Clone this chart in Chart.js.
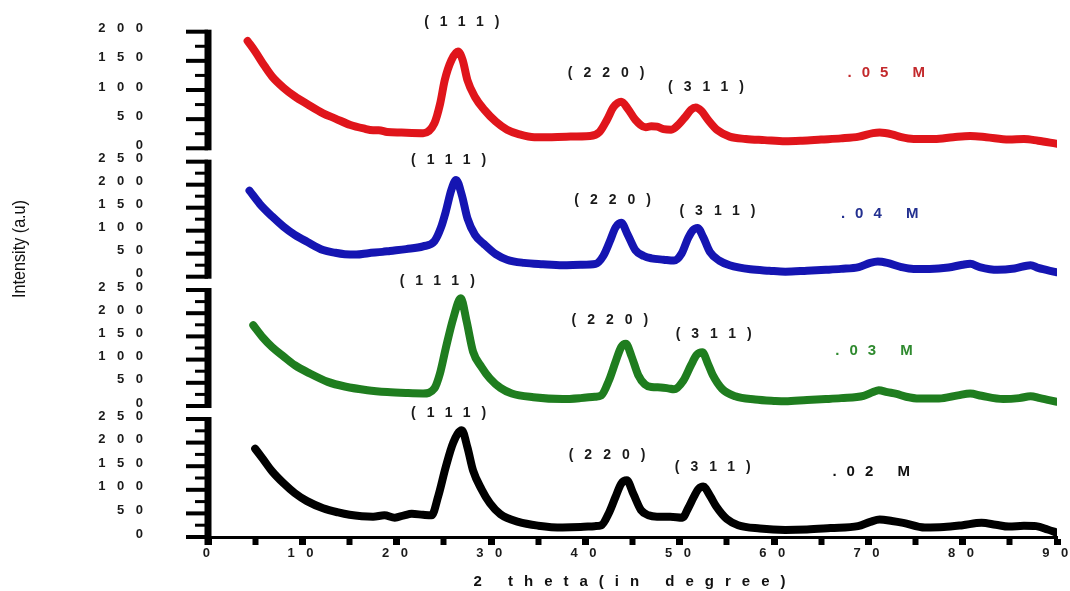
<!DOCTYPE html>
<html>
<head>
<meta charset="utf-8">
<script src="https://cdn.jsdelivr.net/npm/chart.js@4.4.1/dist/chart.umd.min.js"></script>
<style>
  html, body { margin: 0; padding: 0; background: #ffffff; }
  #c { display: block; }
</style>
</head>
<body>
<canvas id="c" width="1070" height="591"></canvas>
<script>
// ---------------- DATA ----------------
const seriesLabels = ['.05 M', '.04 M', '.03 M', '.02 M'];

// .05 M (red)
const x05 = [4.2,5.0,6.0,6.8,8.0,9.2,10.5,12.2,13.5,15.1,16.5,17.5,18.1,19.0,20.5,22.8,24.0,24.6,25.1,25.8,26.5,27.0,27.5,28.3,29.3,30.5,31.7,33.0,34.6,36.0,38.0,40.5,41.5,42.3,43.0,43.8,44.5,45.3,46.4,47.0,47.6,48.3,49.1,49.9,50.6,51.2,51.7,52.3,53.0,54.0,55.3,57.0,59.0,61.2,63.0,65.0,67.1,69.0,70.5,71.2,72.5,73.5,74.8,77.0,79.0,80.8,82.5,84.9,86.5,88.0,89.9];
const y05 = [184,166,141,123,104,89,76,60,51,40,34,31,31,28,27,26,43,76,117,151,166,151,117,88,66,46,32,24,19,19,20,21,28,49,71,80,68,49,36,38,37,33,32,41,54,66,70,64,49,31,20,16,14,12,13,15,17,20,26,27,24,19,16,16,19,21,19,15,16,13,8];

// .04 M (blue)
const x04 = [4.4,5.5,6.8,8.0,9.2,10.5,12.2,13.5,14.5,15.7,17.0,18.5,19.3,21.0,22.8,24.0,24.7,25.2,25.8,26.3,26.9,27.5,28.3,29.3,30.5,31.7,33.5,35.5,37.6,39.5,41.1,41.9,42.6,43.2,43.8,44.5,45.3,46.2,47.0,48.3,49.4,50.2,50.9,51.4,51.9,52.5,53.2,54.2,55.3,57.5,59.5,61.2,63.5,65.5,67.1,69.0,70.2,71.0,72.0,73.5,74.8,76.5,78.5,80.0,80.8,81.8,83.7,85.5,87.2,88.0,89.9];
const y04 = [187,158,131,109,91,76,58,52,49,48,51,54,56,60,66,77,107,141,189,210,178,127,91,70,49,37,30,27,25,26,28,45,77,107,117,91,58,45,40,37,35,50,84,101,106,86,54,35,25,16,13,11,13,15,17,21,30,33,30,21,17,17,20,26,28,21,15,18,25,19,10];

// .03 M (green)
const x03 = [4.8,5.8,6.8,8.0,9.2,10.8,12.7,14.5,16.9,19.0,21.0,22.8,24.0,24.6,25.2,26.0,26.8,27.4,28.1,29.0,29.9,31.0,32.2,34.5,37.6,39.5,41.0,41.7,42.5,43.2,43.8,44.3,44.9,45.6,46.3,47.0,48.0,48.8,49.4,50.4,51.2,51.8,52.4,53.0,53.5,54.5,55.9,58.0,60.0,61.2,63.5,65.5,67.1,69.5,70.5,71.1,72.0,73.0,74.0,75.4,77.5,79.5,80.8,82.0,84.3,86.0,87.2,88.2,90.0];
const y03 = [174,148,127,107,88,70,52,42,34,30,28,27,38,71,124,189,232,184,117,84,59,39,27,19,15,17,20,23,55,95,127,134,107,67,47,41,40,38,36,55,88,110,116,91,67,37,21,14,11,10,13,15,17,22,30,34,30,26,20,16,16,23,27,22,15,17,21,17,9];

// .02 M (black)
const x02 = [5.0,5.8,6.8,8.0,9.2,10.5,12.2,13.8,15.0,16.3,17.5,18.7,19.8,20.8,21.6,22.8,23.7,24.4,25.2,26.0,26.9,27.5,28.1,29.0,29.9,31.0,32.9,35.0,37.6,39.5,41.0,41.7,42.5,43.2,43.8,44.4,45.1,45.9,46.7,47.6,49.0,50.3,50.9,51.5,52.0,52.5,53.2,53.9,55.0,56.2,58.5,61.2,63.5,66.0,68.9,70.2,71.2,72.5,73.7,76.0,78.0,80.0,82.0,83.5,84.9,86.5,87.8,89.0,90.0];
const y02 = [187,166,139,114,93,76,61,52,47,44,43,46,41,46,49,47,46,86,148,200,226,190,141,101,71,48,32,24,20,21,23,25,51,85,113,120,91,57,46,43,43,41,61,85,102,107,88,64,38,25,18,15,16,19,23,32,37,34,30,20,21,25,30,26,22,24,23,16,9];

// Tick values / labels
const xTickValues = [0,5,10,15,20,25,30,35,40,45,50,55,60,65,70,75,80,85,90];
const yTicks200 = [0,25,50,75,100,125,150,175,200];
const yTicks250 = [0,25,50,75,100,125,150,175,200,225,250];

// Peak (hkl) annotations: labels + where they sit (2theta, intensity of the panel)
const peakNames = ['(111)', '(220)', '(311)'];
const peakX05 = [26.9, 42.2, 52.8], peakY05 = [217, 129, 105];
const peakX04 = [25.5, 42.9, 54.0], peakY04 = [254, 167, 143];
const peakX03 = [24.3, 42.6, 53.6], peakY03 = [269, 185, 155];
const peakX02 = [25.5, 42.3, 53.5], peakY02 = [263, 174, 148];
// concentration label anchors
const concX = [71.9, 71.2, 70.6, 70.3];
const concY = [129, 136, 119, 138];

const xTitle = '2 theta(in degree)';
const yTitle = 'Intensity (a.u)';

// ---------------- STYLE / LAYOUT ----------------
const FONT = '"Liberation Sans", Arial, Helvetica, sans-serif';
const TICK_SPACING = 11.5;

const panels = [
  { id: 'y05', xs: x05, ys: y05, px: peakX05, py: peakY05, ticks: yTicks200, color: '#e0151b', labelColor: '#c3292c', min: -9.8,  max: 213.2, weight: 130 },
  { id: 'y04', xs: x04, ys: y04, px: peakX04, py: peakY04, ticks: yTicks250, color: '#1515b2', labelColor: '#233090', min: -13.7, max: 266.7, weight: 129 },
  { id: 'y03', xs: x03, ys: y03, px: peakX03, py: peakY03, ticks: yTicks250, color: '#1f7d1f', labelColor: '#2f8a2f', min: -14.0, max: 265.1, weight: 129.5 },
  { id: 'y02', xs: x02, ys: y02, px: peakX02, py: peakY02, ticks: yTicks250, color: '#000000', labelColor: '#111111', min: 0,     max: 263.8, weight: 124.5 }
];

function pts(xs, ys) {
  const n = Math.min(xs.length, ys.length);
  const out = [];
  for (let i = 0; i < n; i++) out.push({ x: xs[i], y: ys[i] });
  return out;
}

const datasets = panels.map((p, i) => ({
  label: seriesLabels[i],
  data: pts(p.xs, p.ys),
  yAxisID: p.id,
  borderColor: p.color,
  backgroundColor: p.color,
  borderWidth: 8,
  pointRadius: 0,
  fill: false,
  cubicInterpolationMode: 'monotone',
  borderJoinStyle: 'round',
  borderCapStyle: 'round'
}));

const scales = {
  x: {
    type: 'linear',
    position: 'bottom',
    min: 0, max: 90,
    afterBuildTicks: s => { s.ticks = xTickValues.map(v => ({ value: v })); },
    afterFit: s => { s.height = 54; s.paddingLeft = 0; s.paddingRight = 0; },
    border: { display: true, color: '#000', width: 3 },
    grid: {
      display: true, drawOnChartArea: false, drawTicks: true, tickLength: 8,
      tickColor: '#000',
      tickWidth: c => (c.tick && c.tick.value % 10 === 0) ? 7 : 6
    },
    ticks: {
      autoSkip: false, maxRotation: 0, padding: 1,
      labelOffset: 4,
      color: '#1a1a1a',
      font: { family: FONT, size: 13, weight: 'bold' },
      callback: v => (v % 10 === 0 ? String(v) : '')
    }
  }
};
// define bottom panel first so that the top panel (.05 M) is stacked on top
[...panels].reverse().forEach(p => {
  scales[p.id] = {
    type: 'linear',
    position: 'left',
    stack: 'xrd',
    stackWeight: p.weight,
    min: p.min, max: p.max,
    afterBuildTicks: s => { s.ticks = p.ticks.map(v => ({ value: v })); },
    afterFit: s => { s.width = 208; s.paddingTop = 0; s.paddingBottom = 0; },
    border: { display: false },
    grid: { display: false, drawTicks: false, drawOnChartArea: false },
    ticks: {
      autoSkip: false, padding: 65 - TICK_SPACING, labelOffset: -3,
      color: '#1a1a1a',
      font: { family: FONT, size: 13, weight: 'bold' },
      callback: v => (v % 50 === 0 ? String(v) : '')
    }
  };
});

function spacedText(ctx, text, cx, cy, L) {
  ctx.letterSpacing = '0px';
  const w0 = ctx.measureText(text).width;
  ctx.letterSpacing = L + 'px';
  ctx.textAlign = 'left';
  ctx.fillText(text, cx - (w0 + L * (text.length - 1)) / 2, cy);
  ctx.letterSpacing = '0px';
}

const deco = {
  id: 'deco',
  beforeDraw(chart) {
    chart.ctx.letterSpacing = TICK_SPACING + 'px';
  },
  beforeDatasetsDraw(chart) {
    const ctx = chart.ctx;
    ctx.save();
    ctx.letterSpacing = '0px';
    const left = chart.chartArea.left;
    ctx.fillStyle = '#000';
    ctx.strokeStyle = '#000';
    ctx.lineCap = 'butt';
    panels.forEach((p, i) => {
      const s = chart.scales[p.id];
      const top = s.getPixelForValue(p.ticks[p.ticks.length - 1]) - 2;
      const bot = s.getPixelForValue(0) + (i === panels.length - 1 ? 8 : 2);
      ctx.fillRect(left - 3.5, top, 7, bot - top);
      p.ticks.forEach(v => {
        const y = s.getPixelForValue(v);
        const major = v % 50 === 0;
        ctx.lineWidth = major ? 4 : 3;
        ctx.beginPath();
        ctx.moveTo(left - (major ? 22 : 13), y);
        ctx.lineTo(left, y);
        ctx.stroke();
      });
    });
    ctx.restore();
  },
  afterDatasetsDraw(chart) {
    const ctx = chart.ctx;
    const xs = chart.scales.x;
    ctx.save();
    ctx.textBaseline = 'middle';
    panels.forEach((p, i) => {
      const s = chart.scales[p.id];
      ctx.fillStyle = '#1a1a1a';
      ctx.font = 'bold 14px ' + FONT;
      peakNames.forEach((name, k) => {
        spacedText(ctx, name, xs.getPixelForValue(p.px[k]), s.getPixelForValue(p.py[k]), 11);
      });
      ctx.fillStyle = p.labelColor;
      ctx.font = 'bold 15px ' + FONT;
      spacedText(ctx, seriesLabels[i], xs.getPixelForValue(concX[i]), s.getPixelForValue(concY[i]), 10);
    });
    // x axis title
    ctx.fillStyle = '#111';
    ctx.font = 'bold 15px ' + FONT;
    spacedText(ctx, xTitle, (chart.chartArea.left + chart.chartArea.right) / 2 - 3, 582, 11);
    // y axis title (condensed)
    ctx.font = '19px ' + FONT;
    ctx.letterSpacing = '0px';
    const w = ctx.measureText(yTitle).width;
    ctx.translate(20, 249);
    ctx.rotate(-Math.PI / 2);
    ctx.scale(98 / w, 1);
    ctx.textAlign = 'center';
    ctx.fillText(yTitle, 0, 0);
    ctx.restore();
  }
};

new Chart(document.getElementById('c'), {
  type: 'line',
  data: { datasets },
  options: {
    responsive: false,
    animation: false,
    devicePixelRatio: 1,
    events: [],
    layout: { padding: { left: 0, right: 13, top: 24, bottom: 0 } },
    plugins: { legend: { display: false }, tooltip: { enabled: false }, title: { display: false } },
    scales
  },
  plugins: [deco]
});
</script>
</body>
</html>
